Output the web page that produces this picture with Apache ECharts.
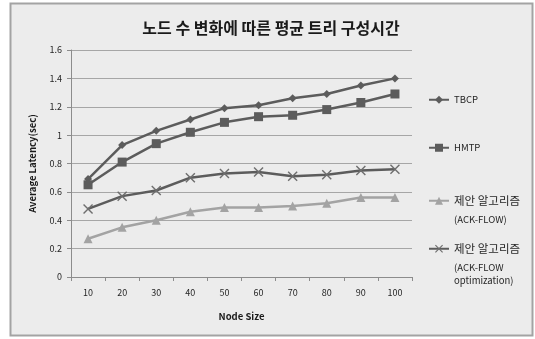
<!DOCTYPE html>
<html>
<head>
<meta charset="utf-8">
<script src="https://cdn.jsdelivr.net/npm/echarts@6/dist/echarts.min.js"></script>
<style>
  html, body { margin: 0; padding: 0; background: #ffffff; }
  #chart { width: 535px; height: 339px; }
</style>
</head>
<body>
<div id="chart"></div>
<script>
// Node counts on the x axis
const nodeSizes = ['10', '20', '30', '40', '50', '60', '70', '80', '90', '100'];

// Average tree construction latency (sec) per protocol
const tbcp = [0.69, 0.93, 1.03, 1.11, 1.19, 1.21, 1.26, 1.29, 1.35, 1.40];
const hmtp = [0.65, 0.81, 0.94, 1.02, 1.09, 1.13, 1.14, 1.18, 1.23, 1.29];
const ackFlow = [0.27, 0.35, 0.40, 0.46, 0.49, 0.49, 0.50, 0.52, 0.56, 0.56];
const ackFlowOpt = [0.48, 0.57, 0.61, 0.70, 0.73, 0.74, 0.71, 0.72, 0.75, 0.76];

const seriesNames = [
  'TBCP',
  'HMTP',
  '제안 알고리즘\n(ACK-FLOW)',
  '제안 알고리즘\n(ACK-FLOW\noptimization)'
];

const yTicks = { min: 0, max: 1.6, interval: 0.2 };

const FONT = '"Noto Sans CJK KR", "Noto Sans", sans-serif';
const crossPath = 'path://M0,1L1,0L5,4L9,0L10,1L6,5L10,9L9,10L5,6L1,10L0,9L4,5Z';

const chart = echarts.init(document.getElementById('chart'), null, { renderer: 'canvas' });

// One legend block per series, so each entry sits at its own height;
// the first text line stays level with the icon.
function legendAt(name, top, lines) {
  const pad = lines === 1 ? 0 : (lines === 2 ? 13 : 26);
  return {
    data: [name],
    orient: 'vertical',
    left: 428,
    top: top,
    padding: 0,
    itemWidth: 20,
    itemHeight: 10,
    itemGap: 2,
    selectedMode: false,
    formatter: function (n) {
      const parts = n.split('\n');
      return parts.map(function (p, i) { return (i === 0 ? '{a|' : '{b|') + p + '}'; }).join('\n');
    },
    textStyle: {
      fontFamily: FONT,
      color: '#262626',
      padding: [pad, 0, 0, 0],
      rich: {
        a: { fontSize: lines === 1 ? 9.5 : 11.5, lineHeight: lines === 1 ? 12 : 25, fontFamily: FONT, color: '#262626' },
        b: { fontSize: 9.5, lineHeight: 13, fontFamily: FONT, color: '#262626' }
      }
    }
  };
}

const option = {
  backgroundColor: '#ffffff',
  animation: false,
  graphic: [{
    type: 'rect',
    z: -10,
    silent: true,
    shape: { x: 10.5, y: 3.5, width: 522, height: 332 },
    style: { fill: '#ececec', stroke: '#a3a3a3', lineWidth: 2 }
  }],
  title: {
    text: '노드 수 변화에 따른 평균 트리 구성시간',
    left: 266,
    textAlign: 'center',
    top: 15,
    textStyle: { fontFamily: FONT, fontSize: 16, fontWeight: 'bold', color: '#1a1a1a' }
  },
  legend: [
    legendAt(seriesNames[0], 95, 1),
    legendAt(seriesNames[1], 143, 1),
    legendAt(seriesNames[2], 195, 2),
    legendAt(seriesNames[3], 243, 3)
  ],
  grid: { left: 71, right: 123, top: 50, bottom: 62 },
  xAxis: {
    type: 'category',
    data: nodeSizes,
    boundaryGap: true,
    name: 'Node Size',
    nameLocation: 'middle',
    nameGap: 35,
    nameTextStyle: { fontFamily: FONT, fontSize: 9.5, fontWeight: 'bold', color: '#1a1a1a' },
    axisLine: { lineStyle: { color: '#8c8c8c', width: 1 } },
    axisTick: { show: true, inside: false, length: 4, alignWithLabel: false, lineStyle: { color: '#8c8c8c' } },
    axisLabel: { fontFamily: FONT, fontSize: 9, color: '#262626', margin: 11 },
    splitLine: { show: false }
  },
  yAxis: {
    type: 'value',
    min: yTicks.min,
    max: yTicks.max,
    interval: yTicks.interval,
    name: 'Average Latency(sec)',
    nameLocation: 'middle',
    nameGap: 34,
    nameTextStyle: { fontFamily: FONT, fontSize: 9.5, fontWeight: 'bold', color: '#1a1a1a' },
    axisLine: { show: true, lineStyle: { color: '#8c8c8c', width: 1 } },
    axisTick: { show: true, length: 4, lineStyle: { color: '#8c8c8c' } },
    axisLabel: { fontFamily: FONT, fontSize: 9, color: '#262626', margin: 9 },
    splitLine: { show: true, lineStyle: { color: '#a6a6a6', width: 1 } }
  },
  series: [
    {
      name: seriesNames[0],
      type: 'line',
      data: tbcp,
      symbol: 'diamond',
      symbolSize: 8,
      lineStyle: { color: '#5c5c5c', width: 2.5 },
      itemStyle: { color: '#5c5c5c' }
    },
    {
      name: seriesNames[1],
      type: 'line',
      data: hmtp,
      symbol: 'rect',
      symbolSize: 9,
      lineStyle: { color: '#5c5c5c', width: 2.5 },
      itemStyle: { color: '#5c5c5c' }
    },
    {
      name: seriesNames[2],
      type: 'line',
      data: ackFlow,
      symbol: 'triangle',
      symbolSize: 9,
      lineStyle: { color: '#a3a3a3', width: 2.5 },
      itemStyle: { color: '#a3a3a3' }
    },
    {
      name: seriesNames[3],
      type: 'line',
      data: ackFlowOpt,
      symbol: crossPath,
      symbolSize: 10,
      lineStyle: { color: '#5c5c5c', width: 2.5 },
      itemStyle: { color: '#6e6e6e' }
    }
  ]
};

chart.setOption(option);
</script>
</body>
</html>
